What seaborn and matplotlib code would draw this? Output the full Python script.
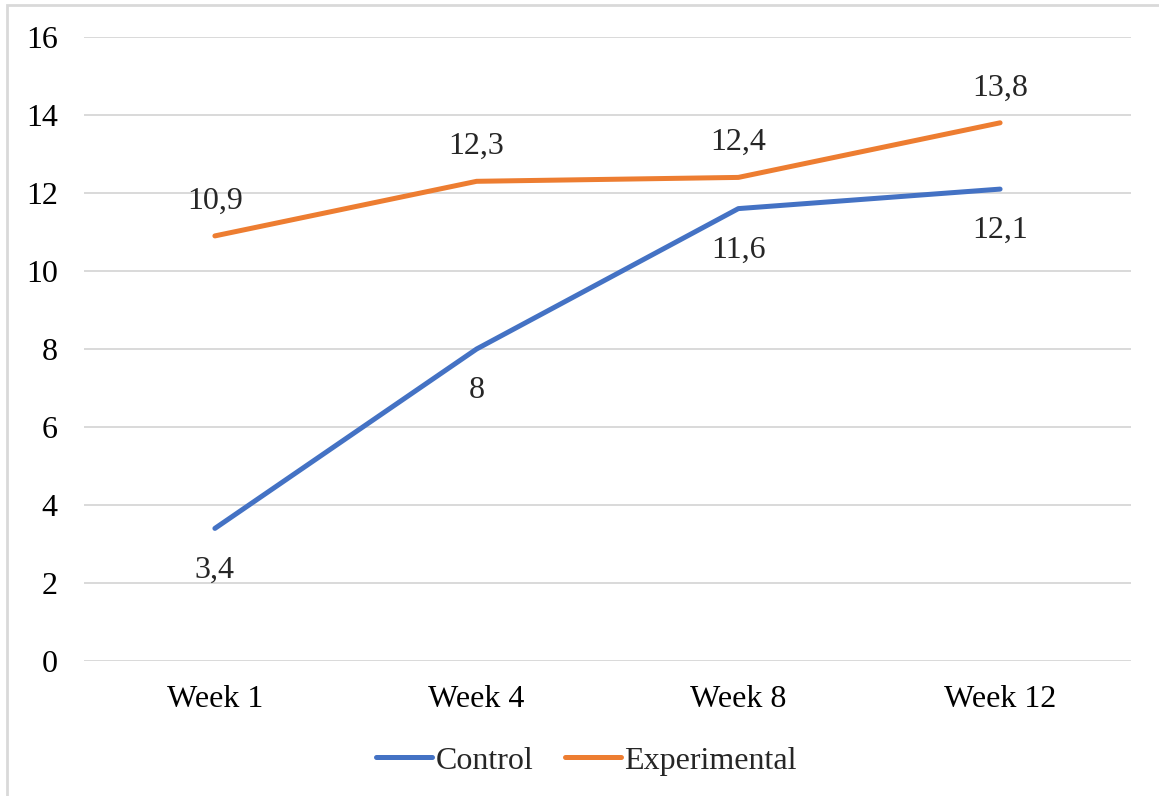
import matplotlib
matplotlib.use("Agg")
import matplotlib.pyplot as plt
import matplotlib.patches as mpatches
import seaborn as sns
import pandas as pd

weeks = ["Week 1", "Week 4", "Week 8", "Week 12"]
control = [3.4, 8.0, 11.6, 12.1]
experimental = [10.9, 12.3, 12.4, 13.8]
series_names = ["Control", "Experimental"]
palette = {"Control": "#4472C4", "Experimental": "#ED7D31"}
FS = 23

df = pd.DataFrame({
    "week": weeks * 2,
    "x": list(range(len(weeks))) * 2,
    "value": control + experimental,
    "group": [series_names[0]] * len(weeks) + [series_names[1]] * len(weeks),
})

sns.set_style("white")
plt.rcParams["font.family"] = ["Liberation Serif", "DejaVu Serif"]

fig = plt.figure(figsize=(11.59, 7.96), dpi=100)
ax = fig.add_axes([0.0725, 0.1696, 0.9033, 0.7839])

sns.lineplot(data=df, x="x", y="value", hue="group", palette=palette,
             linewidth=3.6, ax=ax, solid_capstyle="round", legend=True)

ax.set_xlim(-0.5, len(weeks) - 0.5)
ax.set_ylim(0, 16)
ax.set_yticks(range(0, 17, 2))
ax.set_xticks(range(len(weeks)))
ax.set_xticklabels(weeks)
ax.tick_params(axis="both", labelsize=FS, length=0, colors="black")
ax.tick_params(axis="y", pad=19)
ax.tick_params(axis="x", pad=17)
ax.set_xlabel("")
ax.set_ylabel("")
ax.grid(axis="y", color="#D9D9D9", linewidth=1.4)
ax.set_axisbelow(True)
for s in ax.spines.values():
    s.set_visible(False)

def fmt(v):
    return f"{v:g}".replace(".", ",")

for i, v in enumerate(control):
    ax.annotate(fmt(v), (i, v), xytext=(0, -30), textcoords="offset points",
                ha="center", va="center", fontsize=FS)
for i, v in enumerate(experimental):
    ax.annotate(fmt(v), (i, v), xytext=(0, 25), textcoords="offset points",
                ha="center", va="center", fontsize=FS)

handles, labels = ax.get_legend_handles_labels()
for h in handles:
    h.set_solid_capstyle("round")
ax.legend(handles, labels, loc="center", bbox_to_anchor=(0.48, -0.16),
          ncol=2, frameon=False, fontsize=FS, handlelength=1.75,
          handletextpad=0.1, columnspacing=1.0)

fig.patches.append(mpatches.Rectangle((7 / 1159, -0.05), 1.1, 1 - 5 / 796 + 0.05,
                                      transform=fig.transFigure, fill=False,
                                      edgecolor="#D9D9D9", linewidth=2))

fig.savefig("out.png", dpi=100, facecolor="white")
